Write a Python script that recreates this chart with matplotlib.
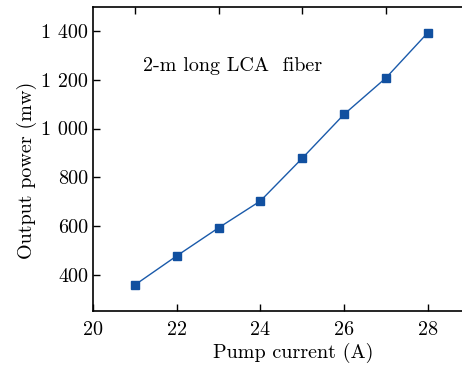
import matplotlib.pyplot as plt

# Data
current = [21, 22, 23, 24, 25, 26, 27, 28]
power = [359, 478, 593, 703, 878, 1058, 1207, 1392]
yticks = [400, 600, 800, 1000, 1200, 1400]
yticklabels = ['400', '600', '800', '1 000', '1 200', '1 400']
xticks = [20, 22, 24, 26, 28]

plt.rcParams['font.family'] = ['cmr10', 'DejaVu Serif']
plt.rcParams['font.size'] = 14.5

fig = plt.figure(figsize=(4.62, 3.66), dpi=100)
ax = fig.add_axes([0.2013, 0.150, 0.7987, 0.831])

ax.plot(current, power, color='#1a5aaa', lw=1.0, marker='s', ms=5.5,
        mec='#1150a0', mfc='#1150a0')

ax.set_xlim(20, 28.82)
ax.set_ylim(252, 1498)
ax.set_xticks(xticks)
ax.set_yticks(yticks)
ax.set_yticklabels(yticklabels)
ax.set_xticks(range(20, 29), minor=True)
ax.tick_params(direction='in', length=5, width=1)
ax.tick_params(which='minor', bottom=False, top=True, direction='in', length=5, width=1)
ax.tick_params(axis='x', pad=7)
ax.spines['right'].set_visible(False)
for s in ['left', 'top', 'bottom']:
    ax.spines[s].set_linewidth(1.2)

ax.text(21.2, 1257, '2-m long LCA  fiber', va='center', ha='left')
ax.set_xlabel('Pump current (A)')
ax.xaxis.set_label_coords(0.542, -0.105)
ax.set_ylabel('Output power (mw)')
ax.yaxis.set_label_coords(-0.153, 0.464)

fig.savefig('out.png', dpi=100)
